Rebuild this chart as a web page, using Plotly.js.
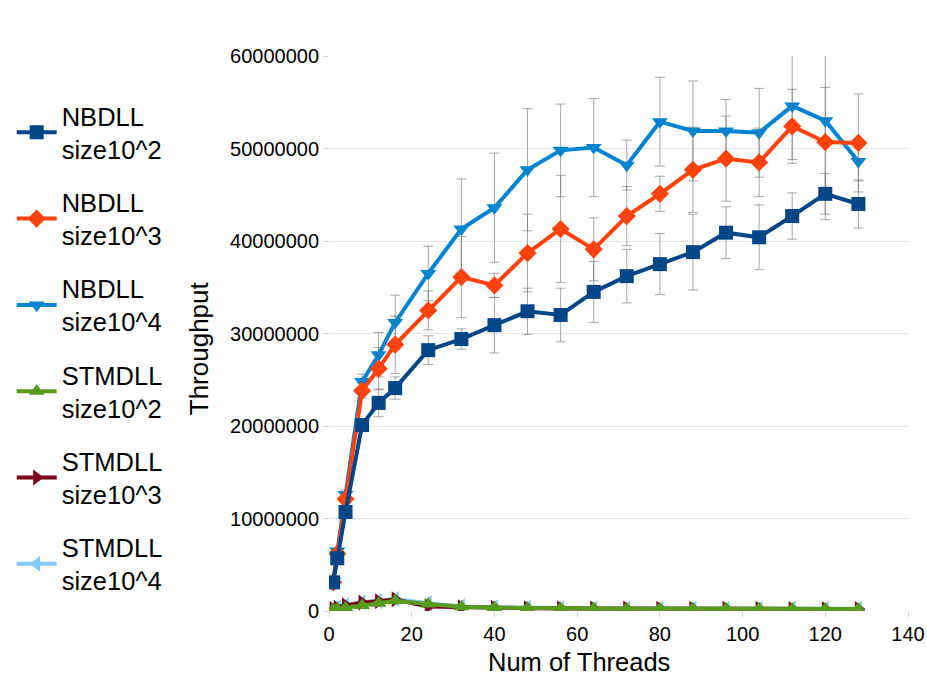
<!DOCTYPE html>
<html>
<head>
<meta charset="utf-8">
<script src="https://cdn.plot.ly/plotly-3.0.1.min.js"></script>
<style>
  html, body { margin: 0; padding: 0; background: #fff; }
  #chart { width: 927px; height: 696px; }
</style>
</head>
<body>
<div id="chart"></div>
<script>
// values in millions of operations per second
const threads = [1, 2, 4, 8, 12, 16, 24, 32, 40, 48, 56, 64, 72, 80, 88, 96, 104, 112, 120, 128];

const nb2    = [3.1, 5.7, 10.7, 20.1, 22.5, 24.1, 28.2, 29.4, 30.9, 32.4, 32.0, 34.5, 36.2, 37.5, 38.8, 40.9, 40.4, 42.7, 45.1, 44.0];
const nb2Err = [0.2, 0.3, 0.4, 0.5, 1.5, 1.2, 1.55, 1.1, 3.0, 2.5, 2.9, 3.3, 2.9, 3.3, 4.1, 2.8, 3.5, 2.5, 2.2, 2.6];

const nb3    = [3.1, 6.2, 12.1, 23.8, 26.2, 28.8, 32.5, 36.1, 35.2, 38.7, 41.3, 39.1, 42.7, 45.1, 47.7, 48.9, 48.5, 52.4, 50.7, 50.6];
const nb3Err = [0.2, 0.3, 0.5, 0.8, 2.3, 3.1, 2.1, 4.4, 1.3, 4.2, 5.8, 3.4, 3.2, 1.9, 4.6, 4.6, 3.7, 4.0, 5.9, 5.3];

const nb4    = [3.2, 6.5, 12.6, 24.8, 27.7, 31.2, 36.5, 41.3, 43.6, 47.7, 49.8, 50.1, 48.2, 52.9, 51.9, 51.9, 51.7, 54.6, 53.0, 48.6];
const nb4Err = [0.2, 0.3, 0.5, 0.8, 2.4, 2.95, 2.95, 5.4, 5.9, 6.6, 5.0, 5.3, 2.7, 4.8, 5.4, 3.4, 4.8, 5.8, 10.7, 2.1];

const stm2 = [0.15, 0.25, 0.35, 0.6, 0.85, 1.1, 0.75, 0.45, 0.38, 0.32, 0.28, 0.26, 0.25, 0.24, 0.24, 0.23, 0.23, 0.22, 0.22, 0.22];
const stm3 = [0.2, 0.35, 0.6, 0.9, 1.05, 1.25, 0.5, 0.4, 0.35, 0.3, 0.28, 0.26, 0.25, 0.24, 0.24, 0.23, 0.23, 0.22, 0.22, 0.22];
const stm4 = [0.2, 0.4, 0.65, 0.95, 1.1, 1.3, 0.85, 0.5, 0.4, 0.33, 0.29, 0.27, 0.26, 0.25, 0.25, 0.24, 0.24, 0.23, 0.23, 0.23];
const stmErr = [0.05, 0.05, 0.08, 0.1, 0.1, 0.1, 0.1, 0.08, 0.06, 0.05, 0.05, 0.05, 0.05, 0.05, 0.05, 0.05, 0.05, 0.05, 0.05, 0.05];

const names = [
    'NBDLL<br>size10^2', 'NBDLL<br>size10^3', 'NBDLL<br>size10^4',
    'STMDLL<br>size10^2', 'STMDLL<br>size10^3', 'STMDLL<br>size10^4'
];
const colors = ['#004586', '#ff420e', '#0084d1', '#579d1c', '#7e0021', '#83caff'];
const symbols = ['square', 'diamond', 'triangle-down', 'triangle-up', 'triangle-right', 'triangle-left'];

const M = 1e6;
const toRaw = arr => arr.map(v => v * M);

const series = [
    {y: nb2, err: nb2Err},
    {y: nb3, err: nb3Err},
    {y: nb4, err: nb4Err},
    {y: stm2, err: stmErr},
    {y: stm3, err: stmErr},
    {y: stm4, err: stmErr},
];

// first series is painted on top (zorder), legend keeps series order
const data = series.map((s, i) => ({
    x: threads,
    y: toRaw(s.y),
    name: names[i],
    legendgroup: 'g' + i,
    zorder: series.length - i,
    mode: 'lines+markers',
    type: 'scatter',
    line: {color: colors[i], width: 4},
    marker: {color: colors[i], symbol: symbols[i], size: 14},
    error_y: {
        type: 'data',
        array: toRaw(s.err),
        visible: true,
        color: 'rgba(110,110,110,0.6)',
        thickness: 1,
        width: 5
    }
}));

const font = 'Liberation Sans, Arial, sans-serif';

const layout = {
    width: 927,
    height: 696,
    paper_bgcolor: '#ffffff',
    plot_bgcolor: '#ffffff',
    margin: {l: 327, r: 19, t: 56, b: 85},
    font: {family: font, color: '#000000', size: 20},
    showlegend: true,
    legend: {
        x: -0.548,
        xanchor: 'left',
        y: 0.934,
        yanchor: 'top',
        traceorder: 'grouped',
        tracegroupgap: 17,
        font: {family: font, size: 25.5, color: '#000000'},
        itemwidth: 40
    },
    // axis titles placed by hand: neither sits at the exact middle of its axis
    annotations: [{
        text: 'Throughput',
        xref: 'paper',
        yref: 'paper',
        x: -0.224,
        y: 0.474,
        textangle: -90,
        showarrow: false,
        xanchor: 'center',
        yanchor: 'middle',
        font: {family: font, size: 26, color: '#000000'}
    }, {
        text: 'Num of Threads',
        xref: 'paper',
        yref: 'paper',
        x: 0.432,
        y: -0.092,
        showarrow: false,
        xanchor: 'center',
        yanchor: 'middle',
        font: {family: font, size: 25.5, color: '#000000'}
    }],
    xaxis: {
        range: [0, 140],
        dtick: 20,
        tick0: 0,
        showgrid: false,
        zeroline: false,
        showline: true,
        linecolor: '#d4d4d4',
        linewidth: 1,
        mirror: true,
        ticks: 'outside',
        ticklen: 5,
        tickcolor: '#d4d4d4',
        tickfont: {size: 20}
    },
    yaxis: {
        range: [0, 60000000],
        dtick: 10000000,
        tick0: 0,
        tickformat: 'd',
        showgrid: true,
        gridcolor: '#e6e6e6',
        gridwidth: 1,
        zeroline: false,
        showline: true,
        linecolor: '#d4d4d4',
        linewidth: 1,
        mirror: true,
        ticks: 'outside',
        ticklen: 5,
        tickcolor: '#d4d4d4',
        tickfont: {size: 20}
    }
};

const config = {
    responsive: false,
    displaylogo: false,
    displayModeBar: false,
    staticPlot: true
};

Plotly.newPlot('chart', data, layout, config);
</script>
</body>
</html>
